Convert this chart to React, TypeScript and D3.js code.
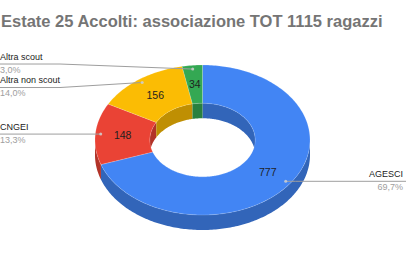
import React from "react";
import * as d3 from "d3";

const title = "Estate 25 Accolti: associazione TOT 1115 ragazzi";
const categories = ["AGESCI", "CNGEI", "Altra non scout", "Altra scout"];
const values = [777, 148, 156, 34];
const percentLabels = ["69,7%", "13,3%", "14,0%", "3,0%"];
const colors = ["#4285F4", "#EA4335", "#FBBC04", "#34A853"];

const W = 420;
const H = 268;
const cx = 202.5;
const cy = 140;
const rx = 107.5;
const ry = 75;
const depth = 15;
const holeF = 0.49;

function shade(c: string, k: number) {
  const col = d3.rgb(c);
  return d3.rgb(col.r * k, col.g * k, col.b * k).formatHex();
}

function pt(theta: number, f: number, dy: number): [number, number] {
  return [cx + rx * f * Math.sin(theta), cy - ry * f * Math.cos(theta) + dy];
}

function arcPts(a0: number, a1: number, f: number, dy: number): [number, number][] {
  const n = Math.max(2, Math.ceil(Math.abs(a1 - a0) / (Math.PI / 180)));
  return d3.range(n + 1).map((i) => pt(a0 + ((a1 - a0) * i) / n, f, dy));
}

const line = d3.line();

function bandPath(a0: number, a1: number, f: number) {
  const pts = [...arcPts(a0, a1, f, 0), ...arcPts(a1, a0, f, depth)];
  return line(pts) + "Z";
}

function facePath(a0: number, a1: number) {
  const pts = [...arcPts(a0, a1, 1, 0), ...arcPts(a1, a0, holeF, 0)];
  return line(pts) + "Z";
}

function clip(a0: number, a1: number, lo: number, hi: number): [number, number] | null {
  const s = Math.max(a0, lo);
  const e = Math.min(a1, hi);
  return e > s ? [s, e] : null;
}

export default function App() {
  const pie = d3.pie<number>().sort(null).value((d) => d)(values);

  const innerWalls: JSX.Element[] = [];
  const outerWalls: JSX.Element[] = [];
  pie.forEach((p, i) => {
    const dark = shade(colors[i], 0.76);
    const ranges = [
      clip(p.startAngle, p.endAngle, 0, Math.PI / 2),
      clip(p.startAngle, p.endAngle, (3 * Math.PI) / 2, 2 * Math.PI),
    ];
    ranges.forEach((r, j) => {
      if (r) innerWalls.push(<path key={`iw${i}-${j}`} d={bandPath(r[0], r[1], holeF)} fill={dark} />);
    });
    const o = clip(p.startAngle, p.endAngle, Math.PI / 2, (3 * Math.PI) / 2);
    if (o) outerWalls.push(<path key={`ow${i}`} d={bandPath(o[0], o[1], 1)} fill={dark} />);
  });

  // label anchors
  const anchors = pie.map((p, i) => {
    const mid = (p.startAngle + p.endAngle) / 2;
    const dot = pt(mid, 0.95, 0);
    const val = pt(mid, (1 + holeF) / 2, 0);
    return { i, mid, dot, val, left: mid > Math.PI, lineY: dot[1] };
  });

  // resolve overlap on each side
  const minGap = 23.5;
  [true, false].forEach((side) => {
    const group = anchors.filter((a) => a.left === side).sort((a, b) => a.lineY - b.lineY);
    for (let iter = 0; iter < 20; iter++) {
      for (let k = 1; k < group.length; k++) {
        const d = group[k].lineY - group[k - 1].lineY;
        if (d < minGap) {
          const push = (minGap - d) / 2;
          group[k].lineY += push;
          group[k - 1].lineY -= push;
        }
      }
    }
  });

  return (
    <svg
      width={W}
      height={H}
      style={{ position: "absolute", left: 0, top: 0, background: "#fff" }}
      fontFamily="'Liberation Sans', Arial, sans-serif"
    >
      <text x={1} y={27} fontSize={16.5} fontWeight="bold" fill="#757575">
        {title}
      </text>

      {innerWalls}
      {outerWalls}
      {pie.map((p, i) => (
        <path
          key={`f${i}`}
          d={facePath(p.startAngle, p.endAngle)}
          fill={colors[i]}
          stroke="rgba(255,255,255,0.35)"
          strokeWidth={0.5}
        />
      ))}

      {anchors.map((a) => (
        <text
          key={`v${a.i}`}
          x={a.val[0]}
          y={a.val[1]}
          dy="0.36em"
          textAnchor="middle"
          fontSize={10.5}
          fill="#1f1f1f"
        >
          {values[a.i]}
        </text>
      ))}

      {anchors.map((a) => {
        const ly = a.lineY;
        const d = a.left
          ? `M0,${ly}H60L${a.dot[0]},${a.dot[1]}`
          : `M${a.dot[0]},${a.dot[1]}L${a.dot[0] + 10},${ly}H406`;
        return (
          <g key={`l${a.i}`}>
            <path d={d} fill="none" stroke="#9e9e9e" strokeWidth={1} />
            <circle cx={a.dot[0]} cy={a.dot[1]} r={1.5} fill="#d0d0d0" opacity={0.85} />
            <text
              x={a.left ? 0 : 403}
              y={ly - 4.5}
              textAnchor={a.left ? "start" : "end"}
              fontSize={9}
              fill="#222"
            >
              {categories[a.i]}
            </text>
            <text
              x={a.left ? 0 : 403}
              y={ly + 8.5}
              textAnchor={a.left ? "start" : "end"}
              fontSize={9}
              fill="#9e9e9e"
            >
              {percentLabels[a.i]}
            </text>
          </g>
        );
      })}
    </svg>
  );
}
